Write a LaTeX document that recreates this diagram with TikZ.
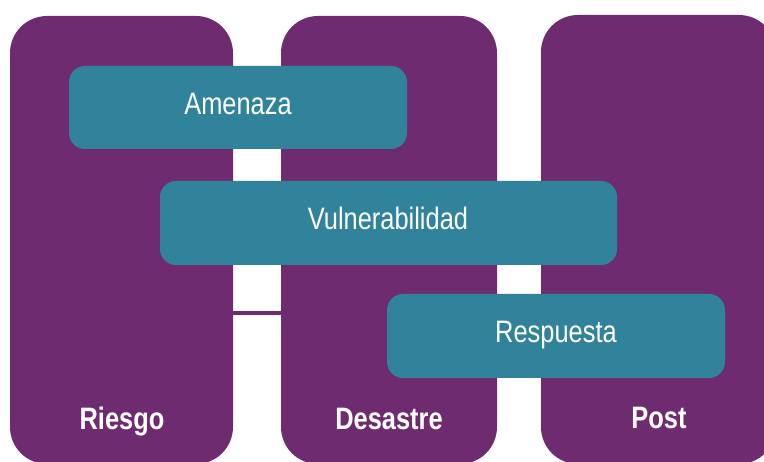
\documentclass[tikz,border=0pt]{standalone}
\usepackage{fontspec}
\setmainfont{Liberation Sans}[FakeStretch=0.82]
\definecolor{pur}{RGB}{111,43,112}
\definecolor{teal2}{RGB}{49,131,156}
\begin{document}
\begin{tikzpicture}[x=1pt,y=-1pt,
  phase/.style={fill=pur,draw=none,rounded corners=37pt},
  bar/.style={fill=teal2,draw=none,rounded corners=16pt},
  lbl/.style={text=white,font=\fontsize{31}{36}\selectfont,anchor=base,inner sep=0pt},
  blbl/.style={lbl,font=\fontsize{31}{36}\selectfont\bfseries}]
\useasboundingbox (0,0) rectangle (764,462);
\clip (0,0) rectangle (764,462);
% phases
\path[phase] (10,16) rectangle (233,464);
\path[phase] (281,16) rectangle (497,464);
\path[phase] (541,15) rectangle (776,464);
\coordinate (la) at (233,313);
\coordinate (lb) at (281,313);
\draw[pur,line width=3.5pt] (la) -- (lb);
% bars
\path[bar] (69,66) rectangle (407,149);
\path[bar] (160,181) rectangle (617,265);
\path[bar] (387,294) rectangle (725,378);
\fill[teal2] (720,308.5) rectangle (725,311.5);
% labels
\node[lbl] (amen) at (238,115) {Amenaza};
\node[lbl] (vuln) at (388,230) {Vulnerabilidad};
\node[lbl] (resp) at (556,343) {Respuesta};
\node[blbl] (ries) at (122,430) {Riesgo};
\node[blbl] (desa) at (389,430) {Desastre};
\node[blbl] (post) at (659,429) {Post};
\end{tikzpicture}
\end{document}
